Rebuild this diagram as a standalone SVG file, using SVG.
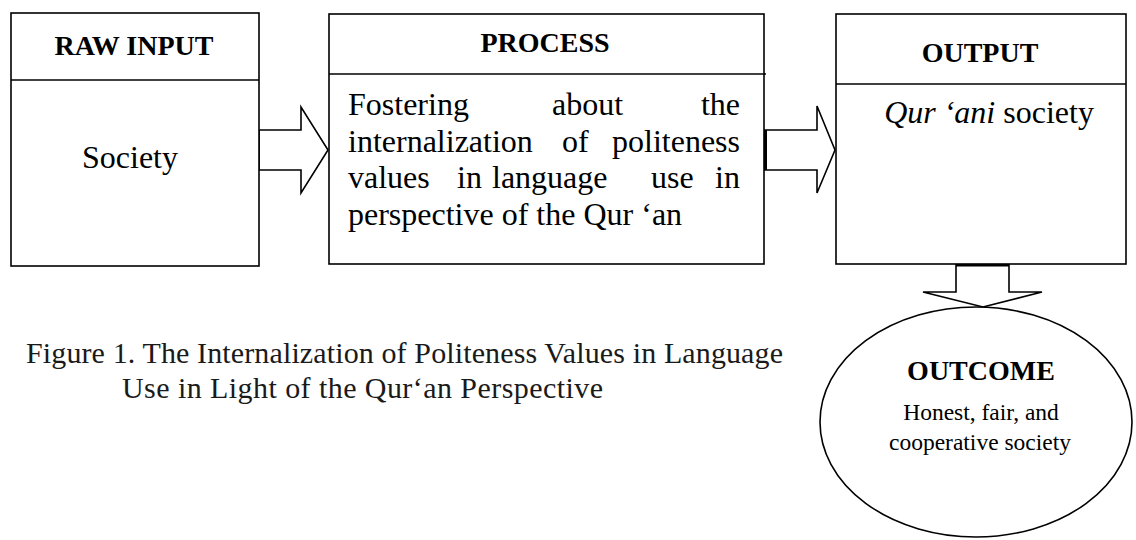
<svg xmlns="http://www.w3.org/2000/svg" width="1136" height="540" viewBox="0 0 1136 540">
<style>
.box{fill:#fff;stroke:#000;stroke-width:1.6}
.ln{stroke:#000;stroke-width:1.6;fill:none}
.arr{fill:#fff;stroke:#000;stroke-width:1.6;stroke-linejoin:miter}
.hd{font-family:"Liberation Serif","Times New Roman",serif;font-weight:bold;font-size:28px;fill:#000;text-anchor:middle}
.tx{font-family:"Liberation Serif","Times New Roman",serif;font-size:32px;fill:#000}
.sm{font-family:"Liberation Serif","Times New Roman",serif;font-size:23.5px;fill:#000;text-anchor:middle}
.cap{font-family:"Liberation Serif","Times New Roman",serif;font-size:30px;fill:#1a1a1a}
</style>
<rect width="1136" height="540" fill="#fff"/>
<g id="connectors">
<polygon class="arr" points="259,130 301,130 301,107 328,150 301,193 301,170 259,170"/>
<polygon class="arr" points="764,130 817,130 817,106 835,150 817,193 817,170 764,170"/>
<line x1="765.5" y1="130" x2="765.5" y2="170" stroke="#000" stroke-width="3"/>
<polygon class="arr" points="956,264 956,292 923,292 983,307 1042,292 1009,292 1009,264"/>
<line x1="956" y1="265" x2="1009" y2="265" stroke="#000" stroke-width="3"/>
</g>
<g id="raw-input">
<rect class="box" x="11" y="13" width="248" height="253"/>
<line class="ln" x1="11" y1="80" x2="259" y2="80"/>
<text class="hd" x="134" y="55">RAW INPUT</text>
<text class="tx" x="130" y="168" text-anchor="middle" font-size="36">Society</text>
</g>
<g id="process">
<rect class="box" x="329" y="14" width="435" height="250"/>
<line class="ln" x1="329" y1="74" x2="766" y2="74"/>
<text class="hd" x="545" y="52" font-size="29.5">PROCESS</text>
<text class="tx" x="348" y="115">Fostering</text>
<text class="tx" x="552" y="115">about</text>
<text class="tx" x="740" y="115" text-anchor="end">the</text>
<text class="tx" x="348" y="152">internalization</text>
<text class="tx" x="562" y="152">of</text>
<text class="tx" x="740" y="152" text-anchor="end">politeness</text>
<text class="tx" x="348" y="188">values</text>
<text class="tx" x="457" y="188">in</text>
<text class="tx" x="492" y="188">language</text>
<text class="tx" x="651" y="188">use</text>
<text class="tx" x="740" y="188" text-anchor="end">in</text>
<text class="tx" x="348" y="225">perspective of the Qur ‘an</text>
</g>
<g id="output">
<rect class="box" x="836" y="14" width="290" height="250"/>
<line class="ln" x1="836" y1="84" x2="1126" y2="84"/>
<text class="hd" x="980" y="62">OUTPUT</text>
<text class="tx" x="989" y="123" text-anchor="middle" font-size="27.5"><tspan font-style="italic">Qur ‘ani</tspan> society</text>
</g>
<g id="outcome">
<ellipse class="box" cx="976" cy="422" rx="156" ry="115"/>
<text class="hd" x="981" y="380" font-size="29">OUTCOME</text>
<text class="sm" x="981" y="420">Honest, fair, and</text>
<text class="sm" x="980" y="450">cooperative society</text>
</g>
<g id="caption">
<text class="cap" x="26" y="363" textLength="757">Figure 1. The Internalization of Politeness Values in Language</text>
<text class="cap" x="122" y="398" textLength="481">Use in Light of the Qur‘an Perspective</text>
</g>
</svg>
